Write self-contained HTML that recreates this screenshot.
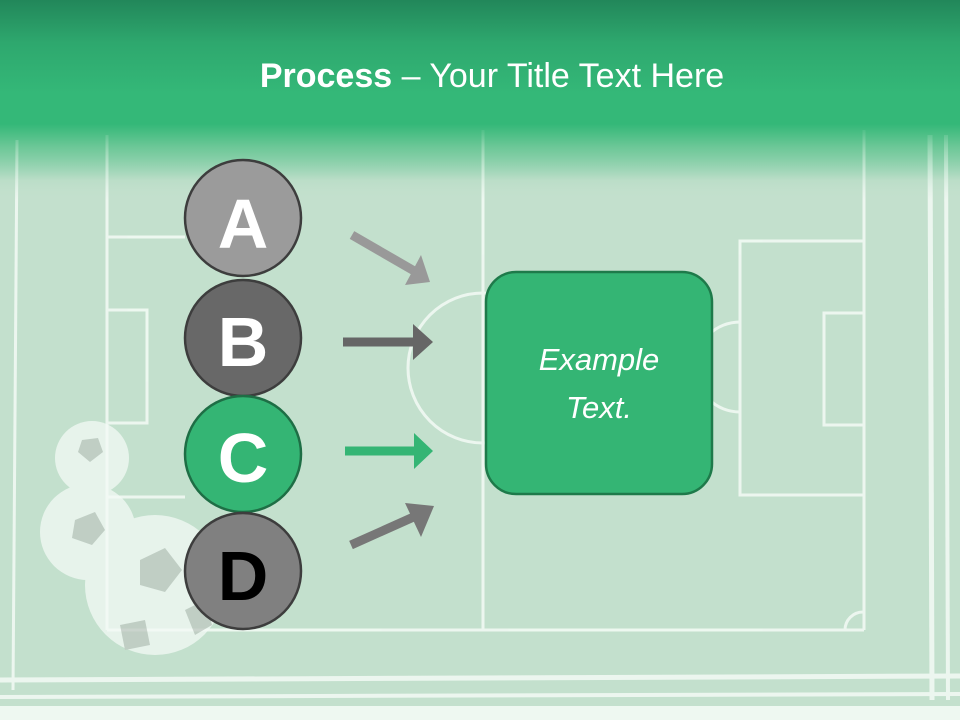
<!DOCTYPE html>
<html><head><style>
body{margin:0;width:960px;height:720px;overflow:hidden;font-family:"Liberation Sans",sans-serif;}
</style></head><body>
<svg width="960" height="720" xmlns="http://www.w3.org/2000/svg">
<defs>
<linearGradient id="bg" x1="0" y1="0" x2="0" y2="1">
<stop offset="0" stop-color="#22875a"/>
<stop offset="0.06" stop-color="#2ea86e"/>
<stop offset="0.13" stop-color="#34b878"/>
<stop offset="0.174" stop-color="#34b878"/>
<stop offset="0.25" stop-color="#c3e0cd"/>
<stop offset="1" stop-color="#c3e0cd"/>
</linearGradient>
<linearGradient id="ov" x1="0" y1="0" x2="0" y2="1">
<stop offset="0" stop-color="#34b878" stop-opacity="1"/>
<stop offset="0.3" stop-color="#6cc796" stop-opacity="0.7"/>
<stop offset="1" stop-color="#c3e0cd" stop-opacity="0"/>
</linearGradient>
</defs>
<rect width="960" height="720" fill="url(#bg)"/>
<g stroke="#f4fbf6" stroke-width="3" fill="none" opacity="0.85">
<line x1="17" y1="140" x2="13" y2="690"/>
<line x1="107" y1="135" x2="107" y2="630"/>
<polyline points="107,237 185,237"/>
<polyline points="107,310 147,310 147,423 107,423"/>
<polyline points="107,497 185,497"/>
<line x1="483" y1="130" x2="483" y2="630"/>
<circle cx="483" cy="368" r="75"/>
<line x1="107" y1="630" x2="864" y2="630"/>
<line x1="864" y1="130" x2="864" y2="630"/>
<polyline points="864,241 740,241 740,495 864,495"/>
<polyline points="864,313 824,313 824,425 864,425"/>
<path d="M740,322 A45,45 0 0 0 740,412"/>
<path d="M845,630 A18,18 0 0 1 863,612"/>
<line x1="930" y1="135" x2="932" y2="700" stroke-width="5"/>
<line x1="946" y1="135" x2="948" y2="700" stroke-width="4"/>
<line x1="0" y1="680" x2="960" y2="676" stroke-width="5"/>
<line x1="0" y1="697" x2="960" y2="694" stroke-width="4"/>
</g>
<rect x="0" y="124" width="960" height="76" fill="url(#ov)"/>
<rect x="0" y="706" width="960" height="14" fill="#eef8f1"/>
<g opacity="0.75">
<circle cx="92" cy="458" r="37" fill="#f4faf6"/>
<circle cx="88" cy="532" r="48" fill="#f4faf6"/>
<circle cx="155" cy="585" r="70" fill="#f4faf6"/>
<g fill="#bfc8c2">
<polygon points="82,440 98,438 103,452 90,462 78,452"/>
<polygon points="75,520 95,512 105,530 92,545 72,538"/>
<polygon points="140,560 165,548 182,570 165,592 140,585"/>
<polygon points="120,625 145,620 150,645 125,650"/>
<polygon points="185,610 205,600 212,625 195,635"/>
</g>
</g>
<text x="492" y="87" text-anchor="middle" font-size="34" fill="#fff"><tspan font-weight="bold">Process</tspan> – Your Title Text Here</text>
<g stroke="#3d3d3d" stroke-width="2.5">
<circle cx="243" cy="218" r="58" fill="#9b9b9b"/>
<circle cx="243" cy="338" r="58" fill="#686868"/>
<circle cx="243" cy="454" r="58" fill="#34b574" stroke="#1e6e45"/>
<circle cx="243" cy="571" r="58" fill="#808080"/>
</g>
<g font-size="70" font-weight="bold" text-anchor="middle">
<text x="243" y="248" fill="#fff">A</text>
<text x="243" y="366" fill="#fff">B</text>
<text x="243" y="482" fill="#fff">C</text>
<text x="243" y="600" fill="#000">D</text>
</g>
<g>
<line x1="352" y1="235" x2="416" y2="272" stroke="#999" stroke-width="9"/>
<polygon points="430,282 405,285 421,255" fill="#999"/>
<line x1="343" y1="342" x2="416" y2="342" stroke="#666" stroke-width="9"/>
<polygon points="433,342 413,324 413,360" fill="#666"/>
<line x1="345" y1="451" x2="416" y2="451" stroke="#34b574" stroke-width="9"/>
<polygon points="433,451 414,433 414,469" fill="#34b574"/>
<line x1="351" y1="545" x2="418" y2="515" stroke="#777" stroke-width="9"/>
<polygon points="434,506 405,503 421,537" fill="#777"/>
</g>
<rect x="486" y="272" width="226" height="222" rx="30" fill="#34b574" stroke="#1e7a4a" stroke-width="2.5"/>
<g font-size="31" font-style="italic" fill="#fff" text-anchor="middle">
<text x="599" y="370">Example</text>
<text x="599" y="418">Text.</text>
</g>
</svg>
</body></html>
